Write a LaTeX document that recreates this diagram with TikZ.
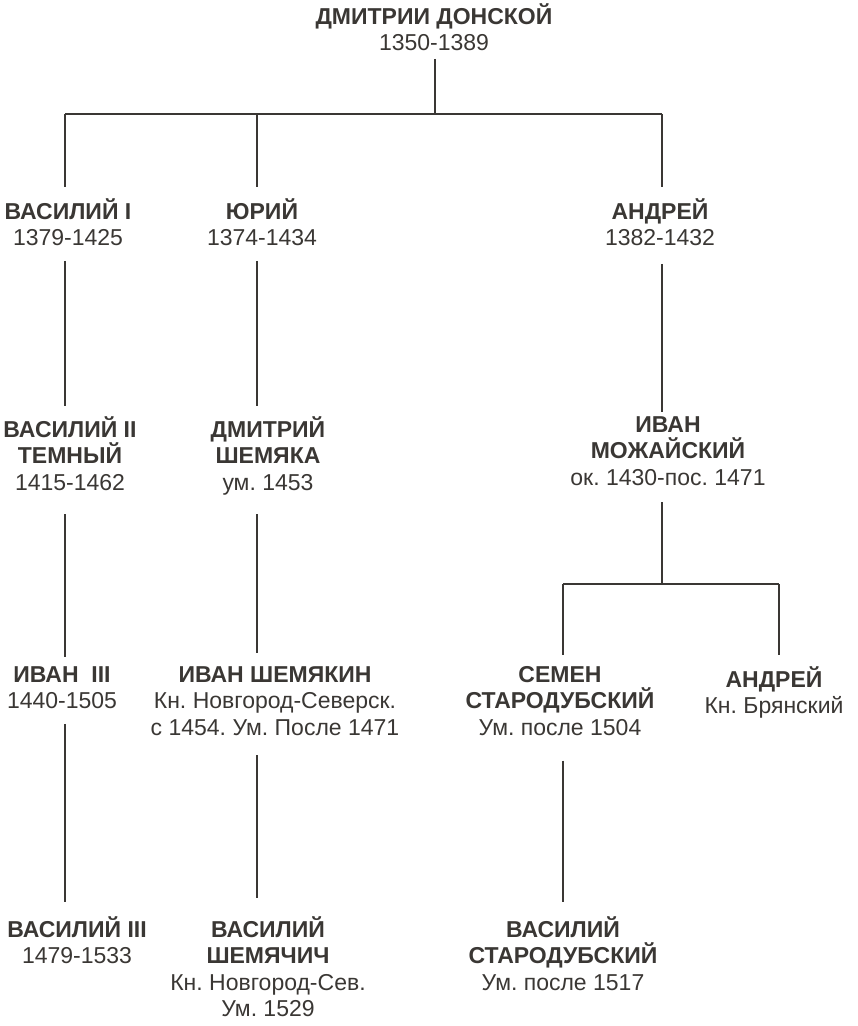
\documentclass[tikz,border=0pt]{standalone}
\usepackage{fontspec}
\setmainfont{Liberation Sans}
\definecolor{ink}{RGB}{58,55,52}
\frenchspacing

\begin{document}
\begin{tikzpicture}[x=1pt, y=-1pt,
    person/.style={align=center, anchor=north, inner sep=0pt, text=ink,
      font=\fontsize{23}{26.5}\selectfont,
      execute at begin node={\rule{0pt}{24pt}}},
    kin/.style={draw=ink, line width=1.5pt}]
  \useasboundingbox (0,0) rectangle (858,1026);
  % Dmitrii Donskoi
  \node[person] (dmd) at (434,3) {\textbf{ДМИТРИИ ДОНСКОЙ}\\1350-1389};
  % his sons
  \node[person] (vas1) at (68,198) {\textbf{ВАСИЛИЙ I}\\1379-1425};
  \node[person] (yur) at (262,198) {\textbf{ЮРИЙ}\\1374-1434};
  \node[person] (andr) at (660,198) {\textbf{АНДРЕЙ}\\1382-1432};
  % grandsons
  \node[person] (vas2) at (70,416) {\textbf{ВАСИЛИЙ II}\\\textbf{ТЕМНЫЙ}\\1415-1462};
  \node[person] (dsh) at (268,416) {\textbf{ДМИТРИЙ}\\\textbf{ШЕМЯКА}\\ум. 1453};
  \node[person] (ivm) at (668,416) {\textbf{ИВАН}\\\textbf{МОЖАЙСКИЙ}\\ок. 1430-пос. 1471};
  % third generation
  \node[person] (iv3) at (62,666) {\textbf{ИВАН\ \ III}\\1440-1505};
  \node[person] (ish) at (275,666) {\textbf{ИВАН ШЕМЯКИН}\\Кн. Новгород-Северск.\\с 1454. Ум. После 1471};
  \node[person] (sem) at (560,666) {\textbf{СЕМЕН}\\\textbf{СТАРОДУБСКИЙ}\\Ум. после 1504};
  \node[person] (anb) at (774,666) {\textbf{АНДРЕЙ}\\Кн. Брянский};
  % fourth generation
  \node[person] (vas3) at (77,916) {\textbf{ВАСИЛИЙ III}\\1479-1533};
  \node[person] (vsh) at (268,916) {\textbf{ВАСИЛИЙ}\\\textbf{ШЕМЯЧИЧ}\\Кн. Новгород-Сев.\\Ум. 1529};
  \node[person] (vst) at (563,916) {\textbf{ВАСИЛИЙ}\\\textbf{СТАРОДУБСКИЙ}\\Ум. после 1517};

  % bar under Dmitrii
  \coordinate (top) at (435,114);
  \coordinate (cA) at (65,114);
  \coordinate (cB) at (257,114);
  \coordinate (cC) at (662,114);
  \draw[kin, shorten <=8pt] (dmd.south -| top) -- (top);
  \draw[kin] (cA) -- (cC);
  \foreach \c/\n in {cA/vas1, cB/yur, cC/andr}{
    \draw[kin, shorten >=11pt] (\c) -- (\n.north -| \c);
  }
  % sons to grandsons
  \draw[kin, shorten <=15pt, shorten >=10pt] (vas1.south -| cA) -- (vas2.north -| cA);
  \draw[kin, shorten <=15pt, shorten >=10pt] (yur.south -| cB) -- (dsh.north -| cB);
  \draw[kin, shorten <=18pt, shorten >=4pt] (andr.south -| cC) -- (ivm.north -| cC);
  % grandsons to third generation
  \coordinate (mid) at (662,584);
  \coordinate (cD) at (563,584);
  \coordinate (cE) at (779,584);
  \draw[kin, shorten <=24pt, shorten >=9pt] (vas2.south -| cA) -- (iv3.north -| cA);
  \draw[kin, shorten <=19pt, shorten >=13pt] (dsh.south -| cB) -- (ish.north -| cB);
  \draw[kin, shorten <=17pt] (ivm.south -| mid) -- (mid);
  \draw[kin] (cD) -- (cE);
  \foreach \c/\n in {cD/sem, cE/anb}{
    \draw[kin, shorten >=11pt] (\c) -- (\n.north -| \c);
  }
  % third to fourth generation
  \draw[kin, shorten <=15pt, shorten >=14pt] (iv3.south -| cA) -- (vas3.north -| cA);
  \draw[kin, shorten <=20pt, shorten >=18pt] (ish.south -| cB) -- (vsh.north -| cB);
  \draw[kin, shorten <=25pt, shorten >=14pt] (sem.south -| cD) -- (vst.north -| cD);
\end{tikzpicture}
\end{document}
